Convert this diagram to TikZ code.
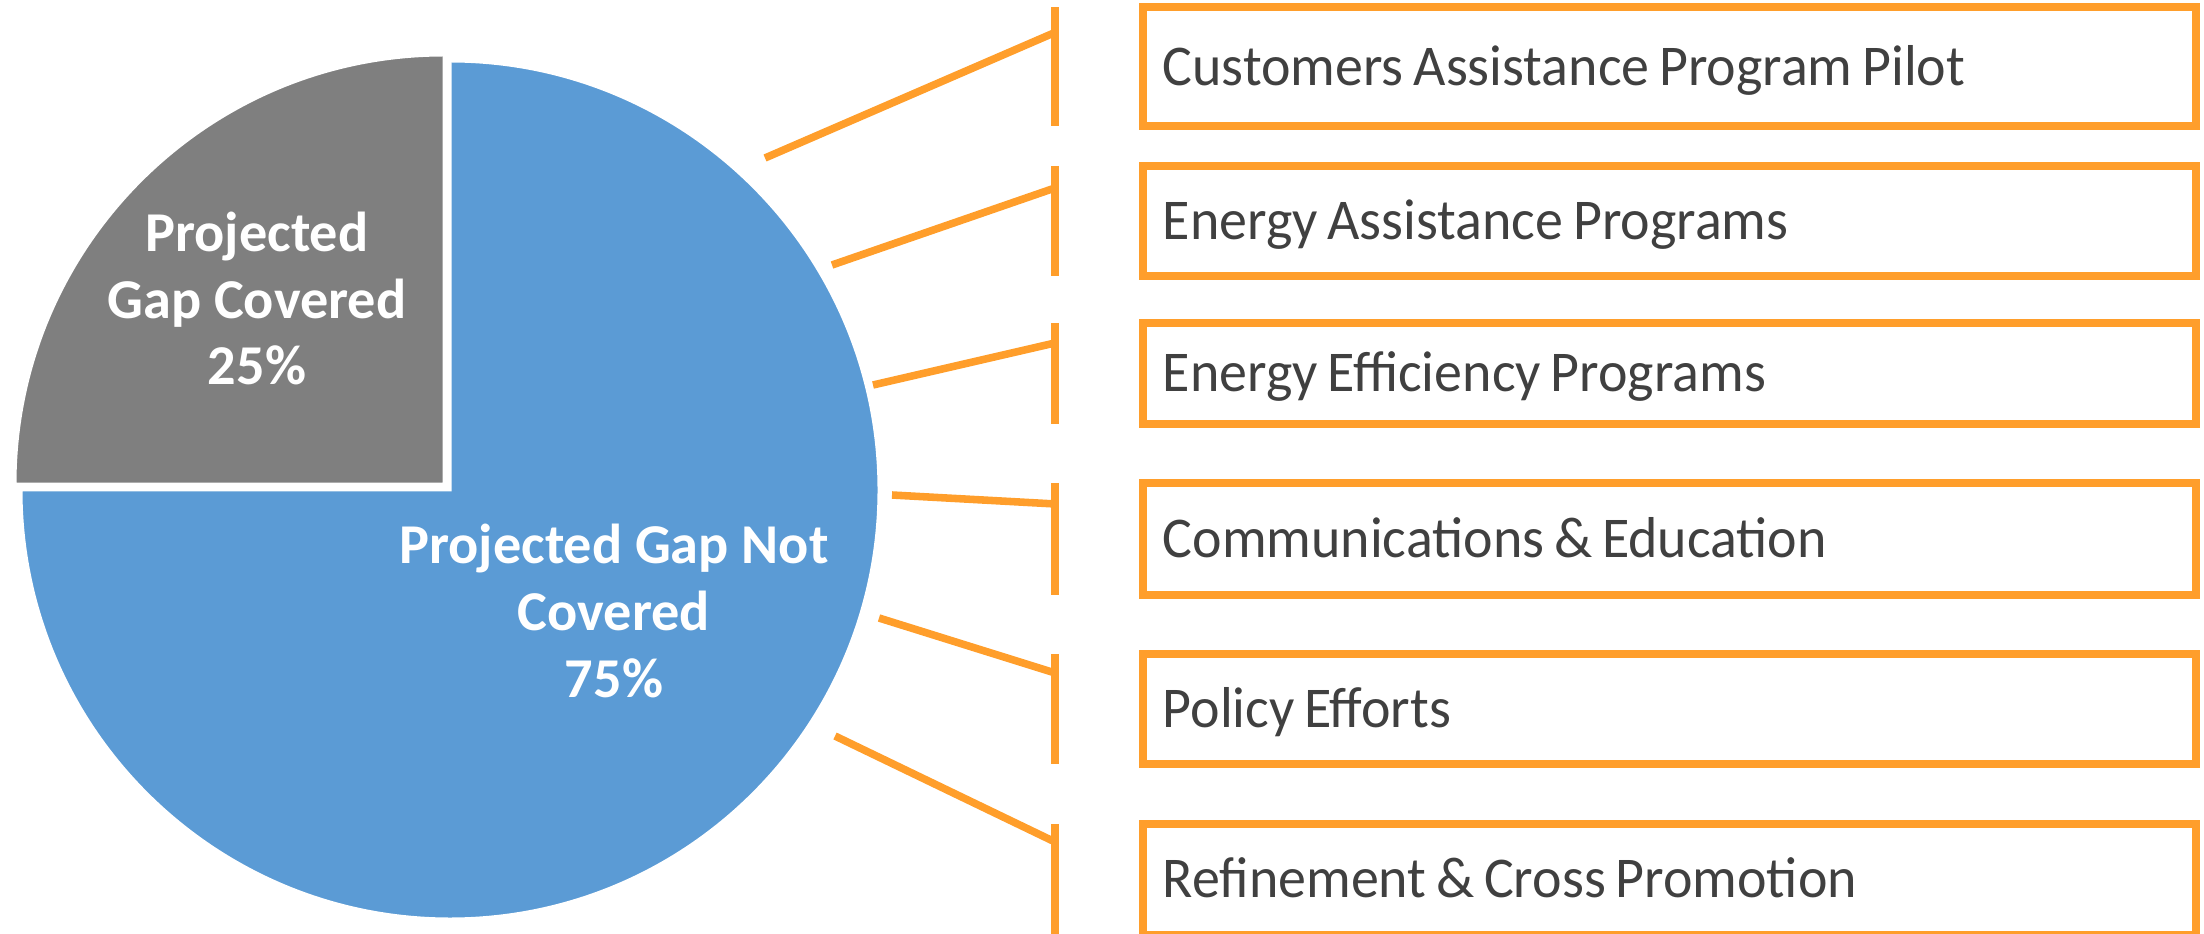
\documentclass[tikz,border=0pt]{standalone}
\usepackage{fontspec}
\setmainfont{Carlito}
\newfontfamily\itemfont[FakeStretch=0.97]{Carlito}
\usepackage{tikz}
\usetikzlibrary{calc, positioning}
\definecolor{pieblue}{HTML}{5B9BD5}
\definecolor{piegray}{HTML}{7F7F7F}
\definecolor{leadorange}{HTML}{FF9E2B}
\definecolor{itemtext}{HTML}{404040}

\begin{document}
\begin{tikzpicture}[x=0.01cm, y=0.01cm,
    item/.style={draw=leadorange, line width=2.28pt, outer sep=0pt, inner xsep=0.2cm, inner ysep=0pt,
        text width=10.13cm, align=left, text height=10.5pt, text depth=0pt,
        font=\itemfont\fontsize{16.4}{19}\selectfont, text=itemtext,
        execute at begin node={\spaceskip=0.17em\relax}},
    lead/.style={draw=leadorange, line width=2.15pt},
    slice/.style={draw=white, line width=0.85pt},
    pielabel/.style={text=white, align=center, inner sep=0pt, font=\bfseries\fontsize{16}{19}\selectfont}]
    \useasboundingbox (0,0) rectangle (2204,933);
    % pie
    \coordinate (bc) at (450,443);
    \coordinate (gc) at (444,449);
    \filldraw[slice, fill=pieblue] (bc) -- ++(90:429) arc[start angle=90, end angle=-180, radius=429] -- cycle;
    \filldraw[slice, fill=piegray] (gc) -- ++(90:429) arc[start angle=90, end angle=180, radius=429] -- cycle;
    \node[pielabel] (notcov) at (614,322) {Projected Gap Not\\Covered\\75\%};
    \node[pielabel] (cov) at (257,634.5) {Projected\\Gap Covered\\25\%};
    % boxes
    \node[item, minimum width=10.53cm, minimum height=1.185cm] (cap) at (1669.5,866.25) {Customers Assistance Program Pilot};
    \node[item, minimum width=10.53cm, minimum height=1.10cm] (eap) at (1669.5,712) {Energy Assistance Programs};
    \node[item, minimum width=10.53cm, minimum height=1.01cm] (eep) at (1669.5,559.5) {Energy Efficiency Programs};
    \node[item, minimum width=10.53cm, minimum height=1.12cm] (ced) at (1669.5,394) {Communications \& Education};
    \node[item, minimum width=10.53cm, minimum height=1.10cm] (pol) at (1669.5,224) {Policy Efforts};
    \node[item, minimum width=10.53cm, minimum height=1.11cm] (rcp) at (1669.5,53.5) {Refinement \& Cross Promotion};
    % bars and leaders
    \coordinate (bx) at (1055,0);
    \draw[lead]
    (cap.north west -| bx) edge (cap.south west -| bx)
    (eap.north west -| bx) edge (eap.south west -| bx)
    (eep.north west -| bx) edge (eep.south west -| bx)
    (ced.north west -| bx) edge (ced.south west -| bx)
    (pol.north west -| bx) edge (pol.south west -| bx)
    (rcp.north west -| bx) edge (rcp.south west -| bx);
    \coordinate (s1) at (765,775);
    \coordinate (s2) at (832,668);
    \coordinate (s3) at (873,548);
    \coordinate (s4) at (892,438);
    \coordinate (s5) at (879,315);
    \coordinate (s6) at (835,197);
    \coordinate (e1) at ($(cap.north west -| bx)+(0,-25)$);
    \coordinate (e2) at ($(eap.north west -| bx)+(0,-22)$);
    \coordinate (e3) at ($(eep.north west -| bx)+(0,-20)$);
    \coordinate (e4) at ($(ced.north west -| bx)+(0,-21)$);
    \coordinate (e5) at ($(pol.north west -| bx)+(0,-19)$);
    \coordinate (e6) at ($(rcp.north west -| bx)+(0,-18)$);
    \draw[lead]
    (s1) edge (e1)
    (s2) edge (e2)
    (s3) edge (e3)
    (s4) edge (e4)
    (s5) edge (e5)
    (s6) edge (e6);
\end{tikzpicture}
\end{document}
